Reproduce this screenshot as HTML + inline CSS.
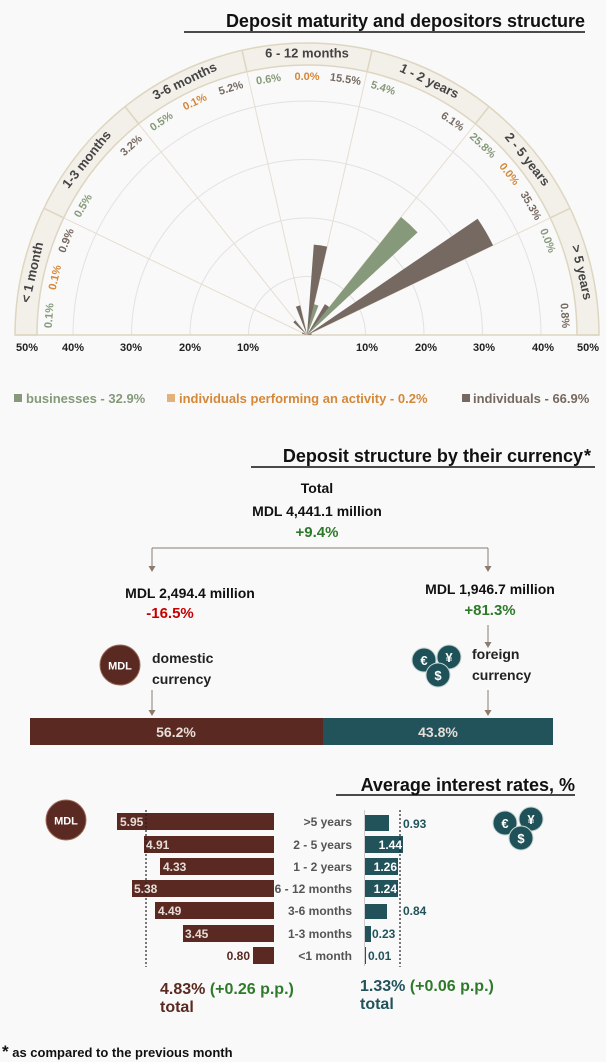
<!DOCTYPE html>
<html><head><meta charset="utf-8"><style>
body{margin:0;background:#f9f9f9;}
svg{display:block;font-family:"Liberation Sans",sans-serif;}
</style></head><body>
<svg width="606" height="1062" viewBox="0 0 606 1062">
<rect width="606" height="1062" fill="#f9f9f9"/>
<text x="585" y="27" text-anchor="end" font-size="18" font-weight="bold" fill="#111">Deposit maturity and depositors structure</text>
<line x1="184" y1="32" x2="585" y2="32" stroke="#111" stroke-width="1.5"/>
<path d="M15 335 A292 292 0 0 1 599 335 L577 335 A270 270 0 0 0 37 335 Z" fill="#f3efe9" stroke="#ddd6c0" stroke-width="1.5"/>
<g fill="none" stroke="#e2e2e2" stroke-width="1">
<path d="M248.5 335 A58.5 58.5 0 0 1 365.5 335"/>
<path d="M190 335 A117 117 0 0 1 424 335"/>
<path d="M131.5 335 A175.5 175.5 0 0 1 482.5 335"/>
<path d="M73 335 A234 234 0 0 1 541 335"/>
</g>
<line x1="15" y1="335" x2="599" y2="335" stroke="#ddd6c0" stroke-width="1.5"/>
<g stroke="#e6ddd0" stroke-width="1">
<line x1="307" y1="335" x2="550.3" y2="217.8"/><line x1="307" y1="335" x2="475.3" y2="123.9"/>
<line x1="307" y1="335" x2="367.1" y2="71.7"/><line x1="307" y1="335" x2="246.9" y2="71.7"/>
<line x1="307" y1="335" x2="138.7" y2="123.9"/><line x1="307" y1="335" x2="63.7" y2="217.8"/>
</g>
<g stroke="#ddd6c0" stroke-width="1.5">
<line x1="550.3" y1="217.8" x2="570.1" y2="208.3"/><line x1="475.3" y1="123.9" x2="488.9" y2="106.7"/>
<line x1="367.1" y1="71.7" x2="372" y2="50.3"/><line x1="246.9" y1="71.7" x2="242" y2="50.3"/>
<line x1="138.7" y1="123.9" x2="125.1" y2="106.7"/><line x1="63.7" y1="217.8" x2="43.9" y2="208.3"/>
</g>
<path d="M307 335 L493.1 245.4 A206.5 206.5 0 0 0 477.6 218.7 Z" fill="#766961"/>
<path d="M307 335 L417.6 232.4 A150.9 150.9 0 0 0 401 217 Z" fill="#86997a"/>
<path d="M307 335 L329.2 307.1 A35.7 35.7 0 0 0 324.9 304.1 Z" fill="#766961"/>
<path d="M307 335 L318.5 305.6 A31.6 31.6 0 0 0 314 304.2 Z" fill="#86997a"/>
<path d="M307 335 L327.2 246.6 A90.7 90.7 0 0 0 313.8 244.6 Z" fill="#766961"/>
<path d="M307 335 L300.2 305.4 A30.4 30.4 0 0 0 295.9 306.7 Z" fill="#766961"/>
<path d="M307 335 L295.3 320.4 A18.7 18.7 0 0 0 293.3 322.3 Z" fill="#766961"/>
<path d="M307 335 L302.4 332.4 A5.3 5.3 0 0 0 302 333.6 Z" fill="#766961"/>
<path d="M307 335 L311.7 334.6 A4.7 4.7 0 0 0 311.4 333.3 Z" fill="#766961"/>
<g font-size="13" font-weight="bold" fill="#444" text-anchor="middle" dominant-baseline="middle">
<text transform="translate(581,272.5) rotate(77.14)">&gt; 5 years</text>
<text transform="translate(526.7,159.9) rotate(51.43)">2 - 5 years</text>
<text transform="translate(429,81.8) rotate(25.71)">1 - 2 years</text>
<text transform="translate(307,54)">6 - 12 months</text>
<text transform="translate(185,81.8) rotate(-25.71)">3-6 months</text>
<text transform="translate(87.3,159.9) rotate(-51.43)">1-3 months</text>
<text transform="translate(33,272.5) rotate(-77.14)">&lt; 1 month</text>
</g>
<g font-size="11" font-weight="bold" text-anchor="middle" dominant-baseline="middle">
<text transform="translate(564.3,315.7) rotate(85.7)" fill="#766961">0.8%</text>
<text transform="translate(547.2,240.8) rotate(68.6)" fill="#86997a">0.0%</text>
<text transform="translate(530.4,206) rotate(60)" fill="#766961">35.3%</text>
<text transform="translate(508.8,174.3) rotate(51.4)" fill="#d4883a">0.0%</text>
<text transform="translate(482.4,145.9) rotate(42.9)" fill="#86997a">25.8%</text>
<text transform="translate(452.3,121.9) rotate(34.3)" fill="#766961">6.1%</text>
<text transform="translate(383,88.5) rotate(17.1)" fill="#86997a">5.4%</text>
<text transform="translate(345.4,79.8) rotate(8.6)" fill="#766961">15.5%</text>
<text transform="translate(307,77)" fill="#d4883a">0.0%</text>
<text transform="translate(268.6,79.8) rotate(-8.6)" fill="#86997a">0.6%</text>
<text transform="translate(231,88.5) rotate(-17.1)" fill="#766961">5.2%</text>
<text transform="translate(195,102.5) rotate(-25.7)" fill="#d4883a">0.1%</text>
<text transform="translate(161.7,121.9) rotate(-34.3)" fill="#86997a">0.5%</text>
<text transform="translate(131.6,145.9) rotate(-42.9)" fill="#766961">3.2%</text>
<text transform="translate(83.6,206) rotate(-60)" fill="#86997a">0.5%</text>
<text transform="translate(66.8,240.8) rotate(-68.6)" fill="#766961">0.9%</text>
<text transform="translate(55.5,277.6) rotate(-77.1)" fill="#d4883a">0.1%</text>
<text transform="translate(49.7,315.7) rotate(-85.7)" fill="#86997a">0.1%</text>
</g>
<g font-size="11" font-weight="bold" fill="#222" text-anchor="middle">
<text x="27" y="351">50%</text><text x="73" y="351">40%</text><text x="131" y="351">30%</text><text x="190" y="351">20%</text><text x="248" y="351">10%</text>
<text x="367" y="351">10%</text><text x="426" y="351">20%</text><text x="484" y="351">30%</text><text x="543" y="351">40%</text><text x="588" y="351">50%</text>
</g>
<g font-size="13" font-weight="bold">
<rect x="14" y="394" width="8" height="8" fill="#86997a"/><text x="26" y="403" fill="#86997a">businesses - 32.9%</text>
<rect x="167" y="394" width="8" height="8" fill="#e3b27c"/><text x="179" y="403" fill="#d4883a">individuals performing an activity - 0.2%</text>
<rect x="462" y="394" width="8" height="8" fill="#766961"/><text x="473" y="403" fill="#766961">individuals - 66.9%</text>
</g>
<text x="583" y="462" text-anchor="end" font-size="18" font-weight="bold" fill="#111">Deposit structure by their currency</text>
<text x="584" y="462" font-size="18" font-weight="bold" fill="#111">*</text>
<line x1="251" y1="467" x2="595" y2="467" stroke="#111" stroke-width="1.5"/>
<g font-size="14" font-weight="bold" text-anchor="middle">
<text x="317" y="493" fill="#111">Total</text>
<text x="317" y="516" fill="#111">MDL 4,441.1 million</text>
<text x="317" y="537" fill="#2f7a2a" font-size="15">+9.4%</text>
<text x="190" y="598" fill="#111">MDL 2,494.4 million</text>
<text x="170" y="618" fill="#c40000" font-size="15">-16.5%</text>
<text x="490" y="594" fill="#111">MDL 1,946.7 million</text>
<text x="490" y="615" fill="#2f7a2a" font-size="15">+81.3%</text>
</g>
<g stroke="#8a7b70" stroke-width="1" fill="none">
<line x1="152" y1="548" x2="488" y2="548"/>
<line x1="152" y1="548" x2="152" y2="566"/><line x1="488" y1="548" x2="488" y2="566"/>
<line x1="152" y1="690" x2="152" y2="710"/><line x1="488" y1="625" x2="488" y2="642"/>
<line x1="488" y1="690" x2="488" y2="710"/>
</g>
<g fill="#8a7b70">
<path d="M148.5 566 L155.5 566 L152 572 Z"/><path d="M484.5 566 L491.5 566 L488 572 Z"/>
<path d="M148.5 710 L155.5 710 L152 716 Z"/><path d="M484.5 642 L491.5 642 L488 648 Z"/><path d="M484.5 710 L491.5 710 L488 716 Z"/>
</g>
<circle cx="120" cy="665" r="20" fill="#5a2a22" stroke="#9a6a5a" stroke-width="1"/>
<text x="120" y="669.5" text-anchor="middle" font-size="11" font-weight="bold" fill="#fff">MDL</text>
<g font-size="14" font-weight="bold" fill="#222"><text x="152" y="663">domestic</text><text x="152" y="684">currency</text>
<text x="472" y="659">foreign</text><text x="472" y="680">currency</text></g>
<g font-weight="bold" fill="#fff" text-anchor="middle" font-size="13">
<circle cx="424" cy="660" r="12" fill="#1f5258" stroke="#c8d4d4"/><text x="424" y="665">€</text>
<circle cx="449" cy="657" r="12" fill="#1f5258" stroke="#c8d4d4"/><text x="449" y="662">¥</text>
<circle cx="438" cy="675" r="12" fill="#1f5258" stroke="#c8d4d4"/><text x="438" y="680">$</text>
</g>
<rect x="30" y="718" width="293" height="27" fill="#5a2a22"/>
<rect x="323" y="718" width="230" height="27" fill="#22535b"/>
<g font-size="14" font-weight="bold" fill="#e6ddd8" text-anchor="middle"><text x="176" y="737">56.2%</text><text x="438" y="737">43.8%</text></g>
<text x="575" y="791" text-anchor="end" font-size="18" font-weight="bold" fill="#111">Average interest rates, %</text>
<line x1="336" y1="795" x2="575" y2="795" stroke="#111" stroke-width="1.5"/>
<circle cx="66" cy="820" r="20" fill="#5a2a22" stroke="#9a6a5a"/>
<text x="66" y="824.5" text-anchor="middle" font-size="11" font-weight="bold" fill="#fff">MDL</text>
<g font-weight="bold" fill="#fff" text-anchor="middle" font-size="13">
<circle cx="505" cy="823" r="12" fill="#1f5258" stroke="#c8d4d4"/><text x="505" y="828">€</text>
<circle cx="531" cy="819" r="12" fill="#1f5258" stroke="#c8d4d4"/><text x="531" y="824">¥</text>
<circle cx="521" cy="838" r="12" fill="#1f5258" stroke="#c8d4d4"/><text x="521" y="843">$</text>
</g>
<line x1="364.5" y1="810" x2="364.5" y2="966" stroke="#ccc" stroke-width="1"/>
<g fill="#5a2a22">
<rect x="117" y="813" width="157" height="17"/><rect x="144" y="836" width="130" height="17"/>
<rect x="160" y="858" width="114" height="17"/><rect x="132" y="880" width="142" height="17"/>
<rect x="155" y="902" width="119" height="17"/><rect x="183" y="925" width="91" height="17"/>
<rect x="253" y="947" width="21" height="17"/>
</g>
<g fill="#22535b">
<rect x="365" y="815" width="24" height="16"/><rect x="365" y="836" width="38" height="17"/>
<rect x="365" y="858" width="33" height="17"/><rect x="365" y="880" width="33" height="17"/>
<rect x="365" y="904" width="22" height="15"/><rect x="365" y="926" width="6" height="16"/>
<rect x="365" y="947" width="1" height="17"/>
</g>
<line x1="146" y1="810" x2="146" y2="967" stroke="#222" stroke-width="1.2" stroke-dasharray="2,2"/>
<line x1="400" y1="810" x2="400" y2="967" stroke="#222" stroke-width="1.2" stroke-dasharray="2,2"/>
<g font-size="12" font-weight="bold" fill="#e6ddd8">
<text x="120" y="826">5.95</text><text x="146" y="849">4.91</text><text x="163" y="871">4.33</text>
<text x="134" y="893">5.38</text><text x="158" y="915">4.49</text><text x="185" y="938">3.45</text>
<text x="250" y="960" text-anchor="end" fill="#5a2a22">0.80</text>
<text x="402" y="849" text-anchor="end" fill="#fff">1.44</text><text x="397" y="871" text-anchor="end" fill="#fff">1.26</text><text x="397" y="893" text-anchor="end" fill="#fff">1.24</text>
<text x="403" y="828" fill="#22535b">0.93</text><text x="403" y="915" fill="#22535b">0.84</text>
<text x="372" y="938" fill="#22535b">0.23</text><text x="368" y="960" fill="#22535b">0.01</text>
</g>
<g font-size="12" font-weight="bold" fill="#555" text-anchor="end">
<text x="352" y="826">&gt;5 years</text><text x="352" y="849">2 - 5 years</text><text x="352" y="871">1 - 2 years</text>
<text x="352" y="893">6 - 12 months</text><text x="352" y="915">3-6 months</text><text x="352" y="938">1-3 months</text><text x="352" y="960">&lt;1 month</text>
</g>
<g font-size="16" font-weight="bold">
<text x="160" y="994"><tspan fill="#5a2a22">4.83%</tspan><tspan fill="#2f7a2a"> (+0.26 p.p.)</tspan></text>
<text x="160" y="1012" fill="#5a2a22">total</text>
<text x="360" y="991"><tspan fill="#22535b">1.33%</tspan><tspan fill="#2f7a2a"> (+0.06 p.p.)</tspan></text>
<text x="360" y="1009" fill="#22535b">total</text>
</g>
<text x="2" y="1057" font-size="13" font-weight="bold" fill="#111"><tspan font-size="17">*</tspan> as compared to the previous month</text>
</svg>
</body></html>
